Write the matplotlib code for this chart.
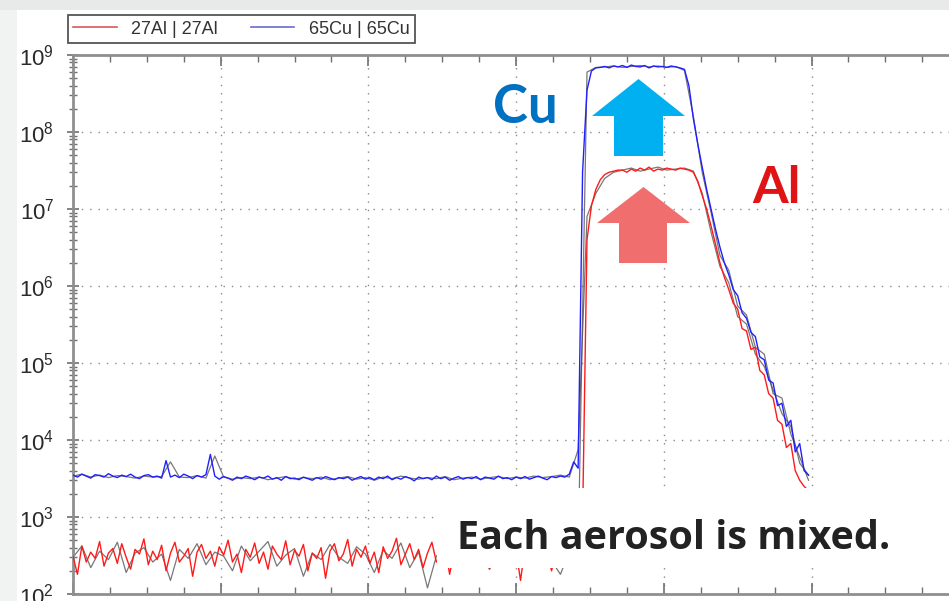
import numpy as np
import matplotlib
matplotlib.use("Agg")
import matplotlib.pyplot as plt
from matplotlib.patches import Polygon, Rectangle
from matplotlib.lines import Line2D
from matplotlib.ticker import LogLocator, MultipleLocator, FixedLocator, FuncFormatter, NullFormatter

plt.rcParams['font.family'] = ['Liberation Sans', 'DejaVu Sans']

# ---- signal traces (counts per sweep) ----
time_fine = np.arange(0, 499, 3)      # sweep time for the labelled channels
time_coarse = np.arange(0, 499, 6)    # sweep time for the companion channels

cu65 = [
    3500, 3300, 3600, 3400, 3200, 3550, 3450, 3300, 3650, 3400,
    3250, 3500, 3350, 3600, 3300, 3150, 3450, 3550, 3300, 3400,
    3200, 5400, 3300, 3500, 3250, 3600, 3400, 3150, 3450, 3300,
    3550, 6500, 3400, 3100, 3350, 3200, 3000, 3300, 3150, 3400,
    3250, 3050, 3300, 3200, 3400, 3100, 3250, 3000, 3350, 3150,
    3200, 3050, 3300, 3150, 3000, 3250, 3100, 3350, 3200, 3050,
    3250, 3150, 3300, 3000, 3200, 3350, 3100, 3250, 3050, 3300,
    3150, 3400, 3050, 3250, 3100, 3350, 3200, 2950, 3300, 3150,
    3250, 3050, 3400, 3150, 3300, 3000, 3200, 3350, 3100, 3250,
    3150, 3350, 3050, 3300, 3200, 3100, 3400, 3150, 3250, 3050,
    3300, 3150, 3350, 3100, 3250, 3400, 3200, 3050, 3350, 3250,
    3400, 3300, 3600, 5200, 4300,
    3.0e7, 3.5e8, 6.2e8, 6.8e8,
    6.9e8, 7.1e8, 6.8e8, 7.2e8, 7.0e8, 7.3e8, 6.9e8, 7.4e8, 7.1e8, 7.0e8,
    7.3e8, 6.8e8, 7.2e8, 7.0e8, 7.1e8, 6.9e8, 7.2e8, 7.0e8, 6.8e8,
    6.5e8, 4.0e8, 1.5e8, 7.0e7, 3.5e7, 1.8e7, 1.0e7, 5.5e6, 3.2e6, 2.0e6,
    1.4e6, 9.0e5, 7.5e5, 4.5e5, 3.8e5, 2.5e5, 2.2e5, 1.2e5, 1.1e5, 6.0e4,
    5.5e4, 2.8e4, 3.0e4, 1.5e4, 1.8e4, 7.0e3, 9.0e3, 4.0e3, 3.5e3,
]

al27 = [
    310, 180, 420, 260, 350, 290, 480, 230, 340, 390,
    250, 450, 300, 210, 380, 330, 520, 240, 360, 280,
    430, 200, 340, 470, 260, 310, 390, 170, 350, 440,
    290, 360, 230, 410, 320, 500, 260, 330, 190, 380,
    300, 460, 250, 350, 210, 420, 330, 280, 490, 240,
    370, 310, 440, 200, 340, 290, 400, 160, 360, 450,
    270, 330, 510, 230, 380, 300, 420, 250, 350, 190,
    410, 290, 360, 530, 240, 330, 450, 280, 380, 220,
    340, 470, 260, 310, 400, 180, 360, 430, 290, 350,
    250, 490, 310, 380, 210, 420, 330, 270, 460, 300,
    360, 150, 400, 320, 250, 440, 290, 370, 200, 340,
    280, 410, 300, 360, 250,
    900, 4.0e6, 1.1e7, 1.8e7, 2.4e7, 2.8e7, 3.0e7, 3.1e7, 3.2e7,
    3.2e7, 3.0e7, 3.3e7, 3.1e7, 3.4e7, 3.2e7, 3.5e7, 3.1e7,
    3.3e7, 3.2e7, 3.4e7, 3.3e7, 3.2e7, 3.4e7, 3.3e7, 3.2e7,
    3.0e7, 2.3e7, 1.5e7, 1.0e7, 6.0e6, 3.5e6, 2.0e6, 1.3e6, 9.0e5, 6.0e5,
    5.0e5, 2.8e5, 2.6e5, 1.5e5, 1.6e5, 8.0e4, 7.0e4, 4.0e4, 3.5e4, 1.8e4,
    1.6e4, 8.0e3, 9.0e3, 4.0e3, 3.0e3, 2.5e3, 2.2e3,
]

trace_a = [
    300, 420, 220, 360, 280, 470, 190, 340, 400, 260,
    330, 150, 380, 290, 450, 240, 350, 310, 200, 420,
    270, 360, 480, 230, 320, 390, 170, 340, 280, 440,
    300, 250, 410, 330, 190, 370, 290, 460, 220, 350,
    120, 310, 400, 260, 340, 280, 430, 210, 360, 300,
    480, 240, 330, 390, 270, 180, 350, 320,
    6.0e8, 6.9e8,
    7.0e8, 7.2e8, 6.9e8, 7.1e8, 7.3e8, 7.0e8, 7.2e8, 6.9e8, 7.1e8,
    6.3e8, 1.6e8, 3.0e7, 9.0e6, 2.5e6, 1.6e6, 5.5e5, 4.2e5, 1.6e5, 1.3e5,
    4.0e4, 3.5e4, 1.2e4, 6.0e3, 3.0e3,
]

trace_b = [
    3400, 3600, 3300, 3500, 3250, 3450, 3350, 3200, 3400, 3300,
    3350, 5200, 3300, 3250, 3450, 3200, 6200, 3300, 3100, 3250,
    3150, 3300, 3050, 3200, 3350, 3100, 3250, 3150, 3300, 3050,
    3200, 3350, 3100, 3250, 3000, 3300, 3150, 3400, 3200, 3100,
    3250, 3150, 3350, 3050, 3200, 3300, 3100, 3250, 3350, 3150,
    3300, 3200, 3400, 3250, 3350, 3500, 3300, 7500,
    8.0e6, 1.6e7, 2.5e7, 3.0e7,
    3.2e7, 3.4e7, 3.1e7, 3.3e7, 3.5e7, 3.2e7, 3.3e7, 3.4e7,
    3.1e7, 1.6e7, 5.0e6, 1.8e6, 1.1e6, 4.0e5, 3.2e5, 1.3e5, 9.0e4, 4.5e4,
    2.2e4, 1.5e4, 5.0e3, 3.5e3,
]

legend_labels = ['27Al | 27Al', '65Cu | 65Cu']
decades = [2, 3, 4, 5, 6, 7, 8, 9]

W, H = 949, 601


def fx(px):
    return px / W


def fy(py):
    return 1 - py / H


fig = plt.figure(figsize=(W / 100, H / 100), dpi=100, facecolor='white')

# slide backdrop
fig.patches.append(Rectangle((0, fy(10)), 1, 10 / H, transform=fig.transFigure,
                             facecolor='#e8e9e9', edgecolor='none', zorder=-10))
fig.patches.append(Rectangle((0, 0), fx(17), fy(10), transform=fig.transFigure,
                             facecolor='#f1f2f2', edgecolor='none', zorder=-10))

ax = fig.add_axes([fx(73), fy(594), (959.2 - 73) / W, (594 - 55) / H])
ax.set_facecolor('white')

ax.plot(time_coarse, trace_a, color='#4a4a4a', lw=0.9, alpha=0.75, zorder=2)
ax.plot(time_coarse, trace_b, color='#4a4a4a', lw=0.9, alpha=0.75, zorder=2)
ax.plot(time_fine, al27, color='#ff1a1a', lw=1.0, zorder=3)
ax.plot(time_fine, cu65, color='#2020ff', lw=1.0, zorder=4)

ax.set_yscale('log')
ax.set_ylim(1e2, 1e9)
ax.set_xlim(0, 600)

ax.yaxis.set_major_locator(FixedLocator([10.0 ** d for d in decades]))
ax.yaxis.set_minor_locator(LogLocator(base=10, subs=np.arange(2, 10)))
ax.yaxis.set_major_formatter(FuncFormatter(
    lambda v, p: r'$\mathregular{10^{%d}}$' % round(np.log10(v))))
ax.yaxis.set_minor_formatter(NullFormatter())
ax.xaxis.set_major_locator(MultipleLocator(100))
ax.xaxis.set_minor_locator(MultipleLocator(25))
ax.xaxis.set_major_formatter(NullFormatter())

ax.tick_params(axis='y', which='major', direction='inout', length=9, width=1.2,
               color='#707070', labelsize=16, labelcolor='#2a2a2a', pad=9,
               left=True, right=True)
ax.tick_params(axis='y', which='minor', direction='inout', length=6, width=1.0,
               color='#707070', left=True, right=True)
ax.tick_params(axis='x', which='major', direction='in', length=8, width=1.2,
               color='#707070', top=True, bottom=True)
ax.tick_params(axis='x', which='minor', direction='in', length=5, width=1.0,
               color='#707070', top=True, bottom=True)

for s in ax.spines.values():
    s.set_color('#8f8f8f')
    s.set_linewidth(2.0)

ax.grid(which='major', linestyle=(0, (1, 5)), color='#8a8a8a', lw=1.0)

handles = [Line2D([], [], color='#d85a5a', lw=1.2),
           Line2D([], [], color='#6a6ad0', lw=1.2)]
leg = fig.legend(handles, legend_labels, loc='center',
                 bbox_to_anchor=(fx(68), fy(45), fx(415 - 68), (45 - 13) / H),
                 mode='expand', ncol=2, fancybox=False, fontsize=13,
                 handlelength=2.4, handletextpad=0.8, borderaxespad=0,
                 borderpad=0.3, framealpha=1, edgecolor='#555555')
leg.get_frame().set_linewidth(1.3)
for t in leg.get_texts():
    t.set_color('#333333')

# arrows marking the signal levels
blue_arrow = [(592, 116), (638.5, 79), (685, 116), (663, 116), (663, 156),
              (614, 156), (614, 116)]
red_arrow = [(597, 223), (643.5, 187), (690, 223), (667, 223), (667, 263),
             (619, 263), (619, 223)]
for pts, col in ((blue_arrow, '#00b0f0'), (red_arrow, '#f06e6e')):
    fig.patches.append(Polygon([(fx(a), fy(b)) for a, b in pts], closed=True,
                               transform=fig.transFigure, facecolor=col,
                               edgecolor='none', zorder=6))

fig.text(fx(525), fy(123), 'Cu', family='Lato', weight='bold', fontsize=38,
         color='#0070c0', ha='center', va='baseline', zorder=7)
fig.text(fx(777), fy(203), 'Al', family='Lato', weight='bold', fontsize=37,
         color='#e01414', ha='center', va='baseline', zorder=7)

# caption panel
fig.patches.append(Rectangle((fx(437), fy(568)), fx(949 - 437), (568 - 488) / H,
                             transform=fig.transFigure, facecolor='white',
                             edgecolor='none', zorder=6))
fig.text(fx(674), fy(549), 'Each aerosol is mixed.', family='Open Sans',
         weight='bold', fontsize=28.5, color='#222222', ha='center',
         va='baseline', zorder=7)

fig.savefig('out.png', dpi=100, facecolor=fig.get_facecolor())
